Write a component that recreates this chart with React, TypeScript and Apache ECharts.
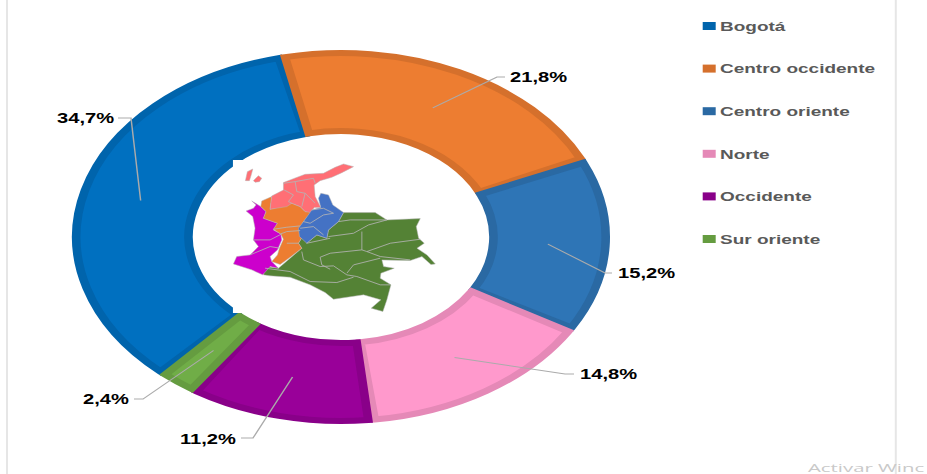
import React, { useEffect, useRef } from "react";
import * as echarts from "echarts";

const categories = ["Bogotá", "Centro occidente", "Centro oriente", "Norte", "Occidente", "Sur oriente"];
const shares = [34.7, 21.8, 15.2, 14.8, 11.2, 2.4];
const fills = ["#0070C0", "#ED7D31", "#2E75B6", "#FF99CC", "#990099", "#70AD47"];
const edges = ["#0064AC", "#D5702C", "#2A69A3", "#E589B7", "#890089", "#659C40"];

const S = 269 / 187; // the reference is stretched horizontally
const W = 927 / S;
const CX = 341;
const CY = 237;

// label placement in page pixels: text left, text middle, elbow, line end
const labelSpots = [
  { x: 57, y: 118, ex: 131, ey: 118, lx: 118 },
  { x: 510, y: 77, ex: 497, ey: 77, lx: 505 },
  { x: 618, y: 273, ex: 605, ey: 273, lx: 612 },
  { x: 580, y: 374, ex: 565, ey: 374, lx: 574 },
  { x: 180, y: 439, ex: 253, ey: 438, lx: 241 },
  { x: 83, y: 399, ex: 143, ey: 399, lx: 134 },
];

// Map of Colombia, traced in a 3x space with origin at page (190,140)
const islands = [
  [[166, 122], [172, 95], [188, 87], [184, 103], [178, 122]],
  [[190, 122], [205, 107], [215, 115], [208, 125], [195, 127]],
];
const norte = [[490, 80], [460, 72], [435, 82], [400, 100], [345, 103], [310, 116], [280, 128], [280, 150], [265, 158], [245, 168], [240, 208], [290, 200], [305, 190], [330, 200], [345, 215], [362, 218], [372, 203], [392, 203], [375, 170], [372, 135], [390, 122], [425, 112], [455, 98]];
const centroOcc = [[215, 183], [245, 170], [240, 208], [290, 195], [305, 190], [330, 200], [345, 215], [365, 215], [340, 245], [328, 268], [340, 285], [325, 310], [335, 325], [300, 352], [270, 374], [245, 365], [262, 345], [268, 325], [280, 298], [272, 282], [250, 268], [262, 250], [220, 235], [228, 215], [212, 200]];
const centroOri = [[392, 160], [415, 165], [428, 195], [460, 218], [445, 245], [415, 270], [410, 295], [380, 285], [350, 310], [328, 290], [325, 265], [340, 245], [365, 210], [392, 203], [385, 175]];
const occidente = [[185, 183], [212, 200], [228, 215], [220, 235], [262, 250], [250, 270], [272, 282], [275, 300], [262, 330], [240, 350], [245, 365], [265, 385], [240, 380], [218, 405], [185, 390], [130, 372], [140, 350], [180, 345], [205, 320], [190, 300], [195, 265], [188, 230], [168, 213], [190, 205], [198, 195]];
const surOri = [[460, 218], [555, 218], [590, 240], [690, 236], [678, 260], [685, 295], [702, 310], [680, 325], [710, 345], [735, 372], [722, 374], [695, 350], [660, 362], [575, 360], [580, 380], [612, 385], [572, 400], [570, 415], [602, 435], [590, 480], [578, 515], [543, 505], [572, 480], [520, 465], [430, 478], [405, 458], [360, 435], [300, 412], [240, 408], [220, 405], [225, 380], [265, 385], [300, 355], [335, 325], [325, 310], [340, 285], [350, 310], [380, 285], [410, 295], [415, 270], [445, 245]];
const mapLines = [
  [[445, 245], [480, 240], [590, 240]],
  [[415, 290], [490, 280], [535, 255], [590, 240]],
  [[515, 275], [515, 330], [420, 340], [390, 352]],
  [[350, 310], [420, 295]],
  [[515, 330], [530, 335], [600, 310], [690, 298]],
  [[530, 335], [570, 350], [660, 360]],
  [[335, 335], [340, 360], [390, 380], [430, 378], [470, 405], [500, 410], [570, 435], [600, 435]],
  [[390, 352], [395, 375], [420, 388]],
  [[470, 400], [490, 375], [570, 355]],
  [[225, 385], [300, 395], [360, 425], [440, 428], [490, 412]],
  [[280, 130], [315, 125], [320, 155], [345, 160], [375, 190]],
  [[315, 125], [370, 115], [375, 130]],
  [[282, 150], [310, 165], [295, 185], [305, 190]],
  [[345, 160], [335, 200]],
  [[340, 245], [360, 250], [400, 225], [430, 220]],
  [[330, 265], [370, 260], [400, 285]],
  [[365, 210], [400, 205], [430, 220]],
  [[250, 268], [290, 262], [330, 258]],
  [[272, 282], [290, 275], [330, 272]],
  [[290, 310], [325, 310]],
  [[190, 300], [240, 300], [275, 282]],
  [[180, 345], [240, 320], [270, 325]],
];

const START_ANGLE = 227.7;
const LEADER_R = 144;

function midAngles(): number[] {
  const total = shares.reduce((a, b) => a + b, 0);
  let acc = 0;
  return shares.map((v) => {
    const mid = acc + v / 2;
    acc += v;
    return ((START_ANGLE - (mid / total) * 360) * Math.PI) / 180;
  });
}

export default function App() {
  const ref = useRef<HTMLDivElement>(null);
  useEffect(() => {
    document.body.style.margin = "0";
    document.body.style.overflow = "hidden";
    document.body.style.background = "#fff";
    const chart = echarts.init(ref.current!, undefined, { renderer: "svg" });
    const mids = midAngles();
    const poly = (points: number[][], fill: string) => ({
      type: "polygon",
      z: 102,
      shape: { points },
      style: { fill, stroke: "#b5b5b5", lineWidth: 1.5 },
    });
    chart.setOption({
      animation: false,
      backgroundColor: "#fff",
      legend: {
        orient: "vertical",
        left: 702.7 / S,
        top: 19,
        padding: 0,
        itemWidth: 13 / S,
        itemHeight: 8,
        itemGap: 28.6,
        icon: "rect",
        selectedMode: false,
        textStyle: {
          color: "#595959",
          fontFamily: "Liberation Sans",
          fontWeight: "bold",
          fontSize: 13.2,
          lineHeight: 14,
          padding: [0, 0, 0, -2],
        },
        data: categories.map((name, i) => ({
          name,
          itemStyle: { color: edges[i], borderWidth: 0 },
        })),
      },
      series: [
        {
          type: "pie",
          z: 2,
          center: [CX / S, CY],
          radius: [106, 184],
          startAngle: START_ANGLE,
          padAngle: 1.4,
          label: { show: false },
          labelLine: { show: false },
          data: categories.map((name, i) => ({
            name,
            value: shares[i],
            itemStyle: {
              color: fills[i],
              borderColor: edges[i],
              borderWidth: 6,
              borderJoin: "miter",
            },
          })),
        },
        {
          // same slices again, unpainted: carries the labels so that their leaders lie over the ring
          type: "pie",
          z: 3,
          center: [CX / S, CY],
          radius: [106, 184],
          startAngle: START_ANGLE,
          itemStyle: { color: "transparent", borderWidth: 0 },
          data: categories.map((name, i) => ({ name, value: shares[i] })),
          label: {
            show: true,
            position: "outside",
            formatter: (p: any) => p.value.toFixed(1).replace(".", ",") + "%",
            color: "#000",
            fontFamily: "Liberation Sans",
            fontWeight: "bold",
            fontSize: 14,
            width: 60,
            overflow: "none",
          },
          labelLine: {
            show: true,
            smooth: false,
            lineStyle: { color: "#ababab", width: 1 },
          },
          labelLayout: (p: any) => {
            const i = p.dataIndex;
            const s = labelSpots[i];
            const sx = CX / S + Math.cos(mids[i]) * LEADER_R;
            const sy = CY - Math.sin(mids[i]) * LEADER_R;
            return {
              x: s.x / S,
              y: s.y,
              align: "left",
              verticalAlign: "middle",
              labelLinePoints: [
                [sx, sy],
                [s.ex / S, s.ey],
                [s.lx / S, s.ey],
              ],
            };
          },
        },
      ],
      graphic: [
        {
          type: "group",
          x: 0,
          y: 0,
          scaleX: 1 / S,
          scaleY: 1,
          children: [
            { type: "rect", z: 100, shape: { x: 6, y: 0, width: 2, height: 474 }, style: { fill: "#E6E6E6" } },
            { type: "rect", z: 100, shape: { x: 895, y: 0, width: 2, height: 474 }, style: { fill: "#E6E6E6" } },
            { type: "rect", z: 100, shape: { x: 233, y: 160, width: 199, height: 153 }, style: { fill: "#fff" } },
            {
              type: "text",
              z: 100,
              x: 808,
              y: 462,
              scaleX: 1.85,
              style: { text: "Activar Winc", fill: "#C9C9C9", font: "11px 'Open Sans'" },
            },
          ],
        },
        {
          type: "group",
          x: 190 / S,
          y: 140,
          scaleX: 1 / (3 * S),
          scaleY: 1 / 3,
          children: [
            ...islands.map((p) => poly(p, "#FF6F75")),
            poly(surOri, "#548235"),
            poly(occidente, "#CC00CC"),
            poly(centroOcc, "#ED7D31"),
            poly(norte, "#FF6F75"),
            poly(centroOri, "#4472C4"),
            ...mapLines.map((points) => ({
              type: "polyline",
              z: 103,
              shape: { points },
              style: { fill: "none", stroke: "#b5b5b5", lineWidth: 2.5 },
            })),
          ],
        },
      ],
    });
    return () => chart.dispose();
  }, []);
  return (
    <div
      ref={ref}
      style={{
        position: "absolute",
        left: 0,
        top: 0,
        width: W,
        height: 474,
        transform: `scaleX(${S})`,
        transformOrigin: "0 0",
      }}
    />
  );
}
